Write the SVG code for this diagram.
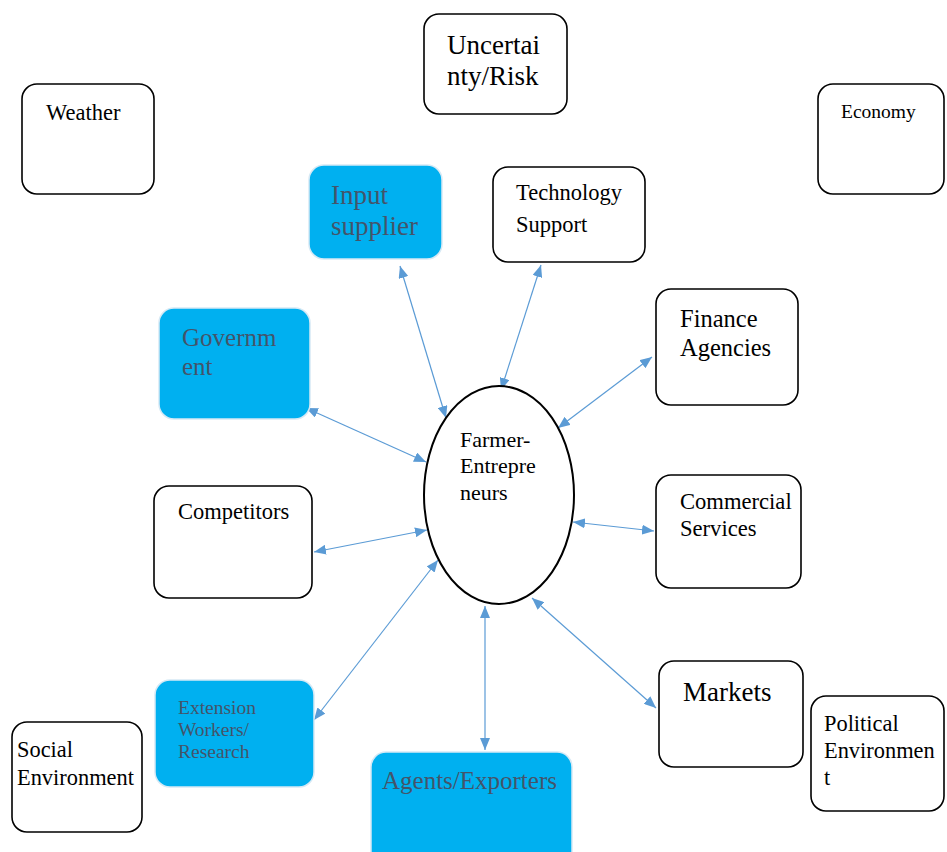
<svg xmlns="http://www.w3.org/2000/svg" width="947" height="852" viewBox="0 0 947 852">
<defs>
<marker id="ah" viewBox="0 0 12 10" refX="12" refY="5" markerWidth="12" markerHeight="10" markerUnits="userSpaceOnUse" orient="auto-start-reverse">
<path d="M0,0 L12,5 L0,10 Z" fill="#5b9bd5"/>
</marker>
</defs>
<style>
.box{fill:#fff;stroke:#000;stroke-width:1.6}
.bb{fill:#00b0f0;stroke:#d6e9f5;stroke-width:1.5}
text{font-family:'Liberation Serif','Times New Roman',serif}
.t{fill:#000}
.tb{fill:#44546a}
.c{stroke:#5b9bd5;stroke-width:1.2;fill:none;marker-start:url(#ah);marker-end:url(#ah)}
</style>
<rect width="947" height="852" fill="#fff"/>
<g id="connectors">
<line class="c" x1="400" y1="266" x2="446" y2="418"/>
<line class="c" x1="541" y1="265" x2="501" y2="390"/>
<line class="c" x1="652" y1="357" x2="558" y2="428"/>
<line class="c" x1="306" y1="408" x2="426" y2="462"/>
<line class="c" x1="573" y1="522" x2="654" y2="531"/>
<line class="c" x1="314" y1="552" x2="427" y2="530"/>
<line class="c" x1="314" y1="720" x2="438" y2="560"/>
<line class="c" x1="485" y1="606" x2="485" y2="750"/>
<line class="c" x1="532" y1="598" x2="656" y2="708"/>
</g>
<g id="uncertainty"><rect class="box" x="424" y="14" width="143" height="100" rx="15"/><text class="t" font-size="27" x="447" y="54">Uncertai</text><text class="t" font-size="27" x="447" y="85">nty/Risk</text></g>
<g id="weather"><rect class="box" x="22" y="84" width="132" height="110" rx="15"/><text class="t" font-size="22.5" x="46" y="120">Weather</text></g>
<g id="economy"><rect class="box" x="818" y="84" width="126" height="110" rx="15"/><text class="t" font-size="19.5" x="841" y="118">Economy</text></g>
<g id="input-supplier"><rect class="bb" x="309" y="165" width="133" height="94" rx="15"/><text class="tb" font-size="27" x="331" y="204">Input</text><text class="tb" font-size="27" x="331" y="235">supplier</text></g>
<g id="technology-support"><rect class="box" x="493" y="167" width="152" height="95" rx="15"/><text class="t" font-size="22.5" x="516" y="200">Technology</text><text class="t" font-size="22.5" x="516" y="232">Support</text></g>
<g id="government"><rect class="bb" x="159" y="308" width="151" height="111" rx="15"/><text class="tb" font-size="25" x="182" y="346">Governm</text><text class="tb" font-size="25" x="182" y="375">ent</text></g>
<g id="finance-agencies"><rect class="box" x="656" y="289" width="142" height="116" rx="15"/><text class="t" font-size="24.5" x="680" y="327">Finance</text><text class="t" font-size="24.5" x="680" y="356">Agencies</text></g>
<g id="farmer-entrepreneurs"><ellipse cx="499" cy="495" rx="75" ry="109" fill="#fff" stroke="#000" stroke-width="2"/><text class="t" font-size="22" x="460" y="447">Farmer-</text><text class="t" font-size="22" x="460" y="473">Entrepre</text><text class="t" font-size="22" x="460" y="500">neurs</text></g>
<g id="competitors"><rect class="box" x="154" y="486" width="158" height="112" rx="15"/><text class="t" font-size="22.5" x="178" y="519">Competitors</text></g>
<g id="commercial-services"><rect class="box" x="656" y="475" width="145" height="113" rx="15"/><text class="t" font-size="22.6" x="680" y="509">Commercial</text><text class="t" font-size="22.6" x="680" y="536">Services</text></g>
<g id="extension-workers"><rect class="bb" x="155" y="680" width="159" height="107" rx="15"/><text class="tb" font-size="19.5" x="178" y="714">Extension</text><text class="tb" font-size="19.5" x="178" y="736">Workers/</text><text class="tb" font-size="19.5" x="178" y="758">Research</text></g>
<g id="social-environment"><rect class="box" x="12" y="722" width="130" height="110" rx="15"/><text class="t" font-size="22.4" x="17" y="757">Social</text><text class="t" font-size="22.4" x="17" y="785">Environment</text></g>
<g id="agents-exporters"><rect class="bb" x="371" y="752" width="201" height="120" rx="15"/><text class="tb" font-size="25" x="382" y="789">Agents/Exporters</text></g>
<g id="markets"><rect class="box" x="659" y="661" width="144" height="106" rx="15"/><text class="t" font-size="27" x="683" y="701">Markets</text></g>
<g id="political-environment"><rect class="box" x="811" y="696" width="133" height="115" rx="15"/><text class="t" font-size="22.4" x="824" y="731">Political</text><text class="t" font-size="22.4" x="824" y="758">Environmen</text><text class="t" font-size="22.4" x="824" y="785">t</text></g>
</svg>
